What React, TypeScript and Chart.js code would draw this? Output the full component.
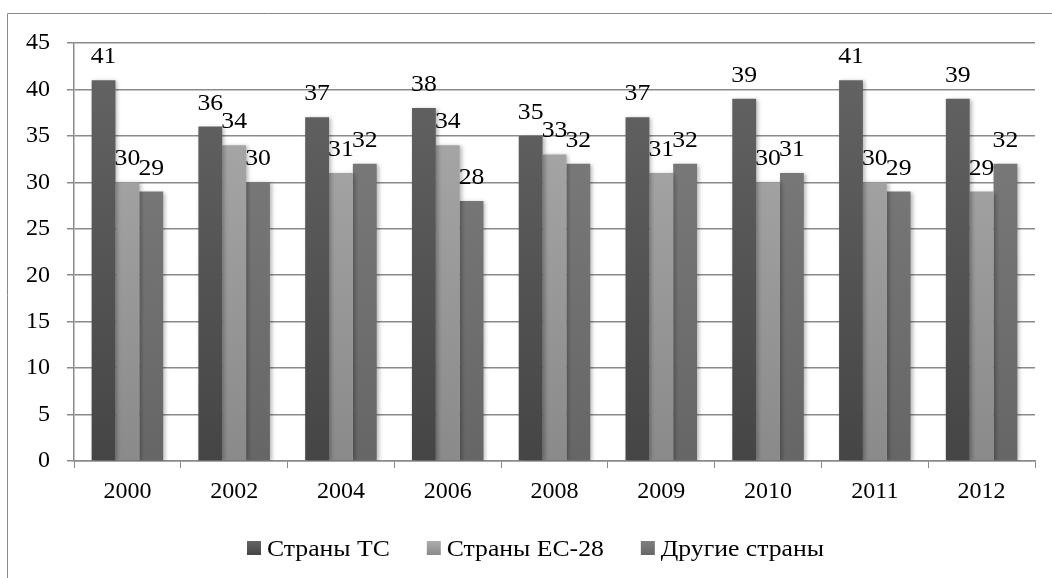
import React, { useEffect, useRef } from "react";
import { Chart, registerables } from "chart.js";

Chart.register(...registerables);

const categories = ["2000", "2002", "2004", "2006", "2008", "2009", "2010", "2011", "2012"];
const seriesNames = ["Страны ТС", "Страны ЕС-28", "Другие страны"];
const tcValues = [41, 36, 37, 38, 35, 37, 39, 41, 39];
const euValues = [30, 34, 31, 34, 33, 31, 30, 30, 29];
const otherValues = [29, 30, 32, 28, 32, 32, 31, 29, 32];
const yTicks = [0, 5, 10, 15, 20, 25, 30, 35, 40, 45];

const FONT = "'Liberation Serif', 'Times New Roman', serif";
const STRETCH = 1.07;
const gradStops = [
  ["#656565", "#454545"],
  ["#adadad", "#8a8a8a"],
  ["#7f7f7f", "#666666"],
];

function makeGrad(idx: number) {
  return (ctx: any) => {
    const chart = ctx.chart;
    const area = chart.chartArea;
    if (!area) return gradStops[idx][0];
    const g = chart.ctx.createLinearGradient(0, area.top, 0, area.bottom);
    g.addColorStop(0, gradStops[idx][0]);
    g.addColorStop(1, gradStops[idx][1]);
    return g;
  };
}

function stretchedText(c: CanvasRenderingContext2D, text: string, x: number, y: number, align: "left" | "center") {
  const w = c.measureText(text).width * STRETCH;
  const left = align === "center" ? x - w / 2 : x;
  c.save();
  c.translate(left, y);
  c.scale(STRETCH, 1);
  c.textAlign = "left";
  c.fillText(text, 0, 0);
  c.restore();
  return w;
}

const framePlugin = {
  id: "frame",
  beforeDraw(chart: any) {
    const c = chart.ctx;
    c.save();
    c.fillStyle = "#ffffff";
    c.fillRect(0, 0, chart.width, chart.height);
    c.strokeStyle = "#8a8a8a";
    c.lineWidth = 1;
    c.beginPath();
    c.moveTo(7.5, chart.height);
    c.lineTo(7.5, 13.5);
    c.lineTo(chart.width, 13.5);
    c.stroke();
    c.restore();
  },
};

const shadowPlugin = {
  id: "barShadow",
  beforeDatasetsDraw(chart: any) {
    const c = chart.ctx;
    c.save();
    c.shadowColor = "rgba(0,0,0,0.28)";
    c.shadowBlur = 4;
    c.shadowOffsetX = 2;
    c.shadowOffsetY = 1;
  },
  afterDatasetsDraw(chart: any) {
    chart.ctx.restore();
  },
};

const labelPlugin = {
  id: "barLabels",
  afterDatasetsDraw(chart: any) {
    const c = chart.ctx;
    c.save();
    c.shadowColor = "rgba(0,0,0,0)";
    c.font = `24px ${FONT}`;
    c.fillStyle = "#000";
    c.textBaseline = "alphabetic";
    chart.data.datasets.forEach((ds: any, di: number) => {
      const meta = chart.getDatasetMeta(di);
      meta.data.forEach((bar: any, i: number) => {
        stretchedText(c, String(ds.data[i]), bar.x, bar.y - 17, "center");
      });
    });
    c.restore();
  },
};

const legendPlugin = {
  id: "customLegend",
  afterDraw(chart: any) {
    const c = chart.ctx;
    c.save();
    c.font = `24px ${FONT}`;
    c.textBaseline = "alphabetic";
    const box = 14;
    const gapBoxText = 6;
    const gapItems = 37;
    let x = 247;
    const y = 548;
    seriesNames.forEach((n, i) => {
      const g = c.createLinearGradient(0, y - box / 2, 0, y + box / 2);
      g.addColorStop(0, gradStops[i][0]);
      g.addColorStop(1, gradStops[i][1]);
      c.fillStyle = g;
      c.fillRect(x, y - box / 2, box, box);
      c.fillStyle = "#000";
      const w = stretchedText(c, n, x + box + gapBoxText, y + 8, "left");
      x += box + gapBoxText + w + gapItems;
    });
    c.restore();
  },
};

export default function App() {
  const ref = useRef<HTMLCanvasElement>(null);
  useEffect(() => {
    if (!ref.current) return;
    const chart = new Chart(ref.current, {
      type: "bar",
      data: {
        labels: categories,
        datasets: [
          { label: seriesNames[0], data: tcValues, backgroundColor: makeGrad(0) },
          { label: seriesNames[1], data: euValues, backgroundColor: makeGrad(1) },
          { label: seriesNames[2], data: otherValues, backgroundColor: makeGrad(2) },
        ],
      },
      options: {
        responsive: false,
        animation: false,
        devicePixelRatio: 1,
        layout: { padding: { left: 0, top: 43, right: 17, bottom: 0 } },
        datasets: { bar: { categoryPercentage: 0.67, barPercentage: 1 } },
        plugins: { legend: { display: false }, tooltip: { enabled: false } },
        scales: {
          x: {
            offset: true,
            grid: {
              offset: true,
              drawOnChartArea: false,
              drawTicks: true,
              tickLength: 7,
              color: "#8a8a8a",
              lineWidth: 1,
            },
            border: { display: true, color: "#8a8a8a", width: 1.5 },
            ticks: { color: "#000", font: { family: FONT, size: 24 }, padding: 9, maxRotation: 0 },
            afterFit(scale: any) {
              scale.height = 117;
            },
          },
          y: {
            min: 0,
            max: 45,
            afterBuildTicks(scale: any) {
              scale.ticks = yTicks.map((v) => ({ value: v }));
            },
            grid: { color: "#8a8a8a", lineWidth: 1.5, tickLength: 7 },
            border: { display: true, color: "#8a8a8a", width: 1.5 },
            ticks: { color: "#000", font: { family: FONT, size: 24 }, padding: 17 },
            afterFit(scale: any) {
              scale.width = 74;
            },
          },
        },
      },
      plugins: [framePlugin, shadowPlugin, labelPlugin, legendPlugin],
    });
    return () => chart.destroy();
  }, []);
  return (
    <div style={{ position: "fixed", left: 0, top: 0, width: 1052, height: 578 }}>
      <canvas ref={ref} width={1052} height={578} style={{ display: "block" }} />
    </div>
  );
}
